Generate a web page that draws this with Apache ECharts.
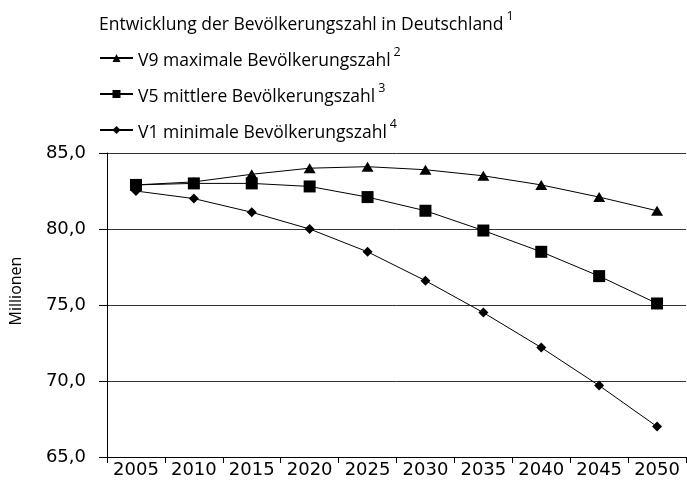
<!DOCTYPE html>
<html>
<head>
<meta charset="utf-8">
<script src="https://cdn.jsdelivr.net/npm/echarts@6/dist/echarts.min.js"></script>
<style>
html,body{margin:0;padding:0;background:#fff;}
#chart{width:687px;height:481px;}
</style>
</head>
<body>
<div id="chart"></div>
<script>
const years = ['2005','2010','2015','2020','2025','2030','2035','2040','2045','2050'];
const v9Max = [82.9, 83.1, 83.6, 84.0, 84.1, 83.9, 83.5, 82.9, 82.1, 81.2];
const v5Mid = [82.9, 83.0, 83.0, 82.8, 82.1, 81.2, 79.9, 78.5, 76.9, 75.1];
const v1Min = [82.5, 82.0, 81.1, 80.0, 78.5, 76.6, 74.5, 72.2, 69.7, 67.0];
const seriesNames = ['V9 maximale Bevölkerungszahl', 'V5 mittlere Bevölkerungszahl', 'V1 minimale Bevölkerungszahl'];
const seriesNotes = ['2', '3', '4'];
const titleText = 'Entwicklung der Bevölkerungszahl in Deutschland';
const titleNote = '1';
const yTickValues = [65, 70, 75, 80, 85];
const yTickLabels = ['65,0', '70,0', '75,0', '80,0', '85,0'];
const yAxisName = 'Millionen';

const textFont = '"Open Sans", "Noto Sans", sans-serif';
const axisFont = '"DejaVu Sans", sans-serif';

const richText = {
  a: { fontFamily: textFont, fontSize: 17.5, fontWeight: 'normal', color: '#000', lineHeight: 24, verticalAlign: 'bottom' },
  s: { fontFamily: textFont, fontSize: 12.5, fontWeight: 'normal', color: '#000', lineHeight: 14, verticalAlign: 'top', padding: [0, 0, 0, 3] }
};

const chart = echarts.init(document.getElementById('chart'), null, { renderer: 'canvas' });
const symbols = ['triangle', 'rect', 'diamond'];
const symbolSizes = [[12, 10], [12, 12], [10, 10]];
const dataSets = [v9Max, v5Mid, v1Min];

chart.setOption({
  animation: false,
  backgroundColor: '#fff',
  title: {
    left: 99,
    top: 10,
    padding: 0,
    text: '{a|' + titleText + '}{s|' + titleNote + '}',
    textStyle: { fontWeight: 'normal', rich: richText }
  },
  legend: {
    orient: 'vertical',
    left: 99,
    top: 46,
    padding: 0,
    itemGap: 12,
    itemWidth: 33,
    itemHeight: 10,
    data: seriesNames,
    formatter: function (name) {
      const i = seriesNames.indexOf(name);
      return '{a|' + name + '}{s|' + seriesNotes[i] + '}';
    },
    textStyle: { rich: richText }
  },
  grid: { left: 100, right: 1, top: 153, bottom: 24 },
  xAxis: {
    type: 'category',
    data: years,
    boundaryGap: true,
    axisLine: { lineStyle: { color: '#000', width: 1 } },
    axisTick: { show: true, length: 6, lineStyle: { color: '#000' } },
    axisLabel: { fontFamily: axisFont, fontSize: 18, color: '#000', margin: 4, interval: 0, hideOverlap: false },
    splitLine: { show: false }
  },
  yAxis: {
    type: 'value',
    min: 65,
    max: 85,
    interval: 5,
    name: yAxisName,
    nameLocation: 'middle',
    nameGap: 83,
    nameRotate: 90,
    nameTextStyle: { fontFamily: textFont, fontSize: 16, color: '#000', padding: [0, 0, 0, 28] },
    axisLine: { show: true, lineStyle: { color: '#000', width: 1 } },
    axisTick: { show: true, length: 8, lineStyle: { color: '#000' } },
    axisLabel: {
      fontFamily: axisFont, fontSize: 18, color: '#000', margin: 21,
      formatter: function (v) {
        const i = yTickValues.indexOf(v);
        return i >= 0 ? yTickLabels[i] : '';
      }
    },
    splitLine: { show: true, lineStyle: { color: '#333', width: 1 } }
  },
  series: seriesNames.map(function (n, i) {
    return {
      name: n,
      type: 'line',
      data: dataSets[i],
      symbol: symbols[i],
      symbolSize: symbolSizes[i],
      showSymbol: true,
      smooth: false,
      lineStyle: { color: '#000', width: 1 },
      itemStyle: { color: '#000', borderWidth: 0 },
      z: 3 - i
    };
  })
});
</script>
</body>
</html>
